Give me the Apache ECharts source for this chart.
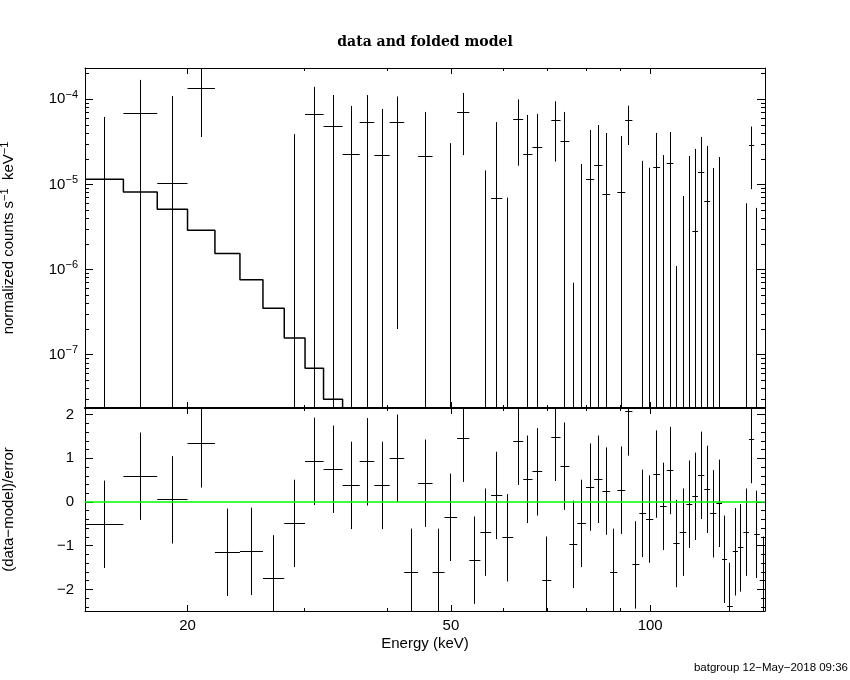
<!DOCTYPE html>
<html><head><meta charset="utf-8">
<script src="https://cdn.jsdelivr.net/npm/echarts@6/dist/echarts.min.js"></script>
<style>html,body{margin:0;padding:0;background:#fff}#c{width:850px;height:680px}</style>
</head><body><div id="c"></div>
<script>
// ---- data ----
const binEdges = [14.0, 16.0, 18.0, 20.0, 22.0, 24.0, 26.0, 28.0, 30.1, 32.1, 34.3, 36.4, 38.3, 40.4, 42.5, 44.6, 46.9, 48.9, 51.1, 53.3, 55.4, 57.5, 59.8, 62.1, 64.3, 66.4, 68.7, 70.9, 73.2, 75.5, 77.6, 80.0, 82.3, 84.7, 87.0, 89.2, 91.7, 94.0, 96.3, 98.6, 101.1, 103.5, 105.9, 108.4, 110.8, 113.4, 115.8, 118.1, 120.7, 123.2, 125.9, 128.4, 130.7, 133.3, 135.7, 138.3, 141.0, 143.6, 146.4, 150.0];
const rate = [-4.1e-5, 6.9e-5, 1.03e-5, 1.35e-4, -1.08e-4, -1.01e-4, -1.49e-4, -3.7e-5, 6.7e-5, 4.82e-5,
  2.26e-5, 5.41e-5, 2.2e-5, 5.41e-5, -8.4e-5, 2.14e-5, -7.9e-5, -1.65e-5, 7.03e-5, -6.25e-5,
  -3.3e-5, 6.9e-6, -3.1e-5, 5.82e-5, 2.26e-5, 2.73e-5, -7.16e-5, 5.66e-5, 3.15e-5, -3.73e-5,
  -1.67e-5, 1.13e-5, 1.69e-5, 7.66e-6, -4.83e-5, 8.07e-6, 5.66e-5, -3.89e-5, -6.6e-6, -1.0e-5,
  1.59e-5, -2.5e-6, 1.77e-5, -2.19e-5, -1.63e-5, -1.1e-6, 2.81e-6, 1.39e-5, 6.32e-6, -5.8e-6,
  -6.5e-7, -2.75e-5, -5.02e-5, -2.28e-5, -2.1e-5, -1.34e-5, 2.83e-5, -1.5e-5, -3.58e-5];
const rateErr = [1.03e-4, 1.0e-4, 9.9e-5, 9.9e-5, 9.5e-5, 9.0e-5, 8.5e-5, 7.6e-5, 7.3e-5, 6.4e-5,
  6.1e-5, 5.8e-5, 5.5e-5, 5.39e-5, 5.2e-5, 4.96e-5, 4.9e-5, 4.7e-5, 4.82e-5, 4.7e-5,
  4.76e-5, 4.7e-5, 3.8e-5, 4.16e-5, 4.29e-5, 4.0e-5, 4.0e-5, 3.81e-5, 3.95e-5, 3.8e-5,
  3.41e-5, 3.23e-5, 3.3e-5, 3.25e-5, 3.0e-5, 2.9e-5, 2.76e-5, 2.7e-5, 2.55e-5, 2.57e-5,
  2.43e-5, 2.46e-5, 2.36e-5, 2.3e-5, 2.36e-5, 2.27e-5, 2.33e-5, 2.22e-5, 2.2e-5, 2.14e-5,
  2.16e-5, 2.1e-5, 2.1e-5, 2.0e-5, 2.0e-5, 1.94e-5, 1.95e-5, 2.03e-5, 2.0e-5];
const model = [1.15e-5, 8.14e-6, 5.09e-6, 2.89e-6, 1.54e-6, 7.6e-7, 3.5e-7, 1.57e-7, 6.9e-8, 2.98e-8, 1.2e-8];
const resid = [-0.51, 0.59, 0.05, 1.33, -1.15, -1.13, -1.76, -0.49, 0.93, 0.75,
  0.38, 0.92, 0.38, 1.00, -1.61, 0.43, -1.61, -0.35, 1.46, -1.33,
  -0.69, 0.15, -0.82, 1.39, 0.52, 0.69, -1.79, 1.48, 0.82, -0.97,
  -0.49, 0.34, 0.52, 0.25, -1.61, 0.27, 2.06, -1.44, -0.26, -0.39,
  0.64, -0.10, 0.72, -0.95, -0.69, -0.05, 0.13, 0.61, 0.29, -0.27,
  -0.03, -1.31, -2.39, -1.14, -1.05, -0.69, 1.43, -0.74, -1.79];

// ---- tick labels ----
const xMajorTicks = [20, 50, 100];
const xMinorTicks = [30, 40, 60, 70, 80, 90];
const yMajorTicks = [1e-7, 1e-6, 1e-5, 1e-4];
const yMinorTicks = [3e-8, 4e-8, 5e-8, 6e-8, 7e-8, 8e-8, 9e-8,
  2e-7, 3e-7, 4e-7, 5e-7, 6e-7, 7e-7, 8e-7, 9e-7,
  2e-6, 3e-6, 4e-6, 5e-6, 6e-6, 7e-6, 8e-6, 9e-6,
  2e-5, 3e-5, 4e-5, 5e-5, 6e-5, 7e-5, 8e-5, 9e-5, 2e-4];
const rMajorTicks = [-2, -1, 0, 1, 2];
const rMinorTicks = [-2.4, -2.2, -1.8, -1.6, -1.4, -1.2, -0.8, -0.6, -0.4, -0.2,
  0.2, 0.4, 0.6, 0.8, 1.2, 1.4, 1.6, 1.8];

// ---- axis ranges ----
const XMIN = 14.0, XMAX = 149.1;
const YMIN = 2.358e-8, YMAX = 2.332e-4;
const RMIN = -2.494, RMAX = 2.151;

const SANS = "'Liberation Sans', Arial, sans-serif";
const lg = Math.log10;
const snap = v => Math.round(v - 0.5) + 0.5;

function tickAxis(gridIndex, pos, min, max, ticks, len, o) {
  o = o || {};
  const a = {
    type: 'value', gridIndex: gridIndex, position: pos, min: min, max: max,
    axisLine: {show: !!o.line, onZero: false, lineStyle: {color: '#000', width: o.lw || 1}},
    axisTick: {show: true, inside: true, length: len, customValues: ticks, lineStyle: {color: '#000', width: 1}},
    axisLabel: {show: false},
    splitLine: {show: false}, minorTick: {show: false}, minorSplitLine: {show: false},
    axisPointer: {show: false}, silent: true
  };
  if (o.label) a.axisLabel = Object.assign({show: true, customValues: ticks, color: '#000',
      fontFamily: SANS, fontSize: 15}, o.label);
  if (o.name) Object.assign(a, o.name);
  return a;
}

const xl = [lg(XMIN), lg(XMAX)];
const yl = [lg(YMIN), lg(YMAX)];
const xMajL = xMajorTicks.map(lg), xMinL = xMinorTicks.map(lg);
const yMajL = yMajorTicks.map(lg), yMinL = yMinorTicks.map(lg);

const xAxes = [
  {type: 'log', gridIndex: 0, min: XMIN, max: XMAX, show: false, position: 'bottom'},
  {type: 'log', gridIndex: 1, min: XMIN, max: XMAX, show: false, position: 'bottom'},
  tickAxis(0, 'bottom', xl[0], xl[1], xMajL, 6, {line: true, lw: 2}),
  tickAxis(0, 'bottom', xl[0], xl[1], xMinL, 3),
  tickAxis(0, 'top', xl[0], xl[1], xMajL, 6, {line: true}),
  tickAxis(0, 'top', xl[0], xl[1], xMinL, 3),
  tickAxis(1, 'bottom', xl[0], xl[1], xMajL, 6, {line: true,
    label: {margin: 7, formatter: v => String(Math.round(Math.pow(10, v)))},
    name: {name: 'Energy (keV)', nameLocation: 'middle', nameGap: 25,
      nameTextStyle: {color: '#000', fontFamily: SANS, fontSize: 15}}}),
  tickAxis(1, 'bottom', xl[0], xl[1], xMinL, 3),
  tickAxis(1, 'top', xl[0], xl[1], xMajL, 6, {line: true}),
  tickAxis(1, 'top', xl[0], xl[1], xMinL, 3)
];

const supRich = {
  b: {fontFamily: SANS, fontSize: 15, color: '#000'},
  s: {fontFamily: SANS, fontSize: 11, color: '#000', padding: [0, 0, 9, 0]}
};

const yAxes = [
  {type: 'log', gridIndex: 0, min: YMIN, max: YMAX, show: false, position: 'left'},
  {type: 'value', gridIndex: 1, min: RMIN, max: RMAX, show: false, position: 'left'},
  tickAxis(0, 'left', yl[0], yl[1], yMajL, 8, {line: true,
    label: {margin: 7, formatter: v => '{b|10}{s|\u2212' + Math.round(-v) + '}', rich: supRich},
    name: {name: '{b|normalized counts s}{s|\u22121}{b|  keV}{s|\u22121}', nameLocation: 'middle',
      nameRotate: 90, nameGap: 66, nameTextStyle: {rich: supRich}}}),
  tickAxis(0, 'left', yl[0], yl[1], yMinL, 4),
  tickAxis(0, 'right', yl[0], yl[1], yMajL, 8, {line: true}),
  tickAxis(0, 'right', yl[0], yl[1], yMinL, 4),
  tickAxis(1, 'left', RMIN, RMAX, rMajorTicks, 8, {line: true,
    label: {margin: 11, formatter: v => (v < 0 ? '\u2212' + (-v) : String(v))},
    name: {name: '(data\u2212model)/error', nameLocation: 'middle', nameRotate: 90, nameGap: 69,
      nameTextStyle: {color: '#000', fontFamily: SANS, fontSize: 15}}}),
  tickAxis(1, 'left', RMIN, RMAX, rMinorTicks, 4),
  tickAxis(1, 'right', RMIN, RMAX, rMajorTicks, 8, {line: true}),
  tickAxis(1, 'right', RMIN, RMAX, rMinorTicks, 4)
];

const seg = (x1, y1, x2, y2) => ({type: 'line', shape: {x1: x1, y1: y1, x2: x2, y2: y2},
  style: {stroke: '#000', lineWidth: 1}});

const rateData = rate.map((v, i) => [binEdges[i], binEdges[i + 1], v, rateErr[i]]);
const residData = resid.map((v, i) => [binEdges[i], binEdges[i + 1], v]);

function renderRate(params, api) {
  const lo = api.value(0), hi = api.value(1), v = api.value(2), e = api.value(3);
  const mid = (lo + hi) / 2, top = v + e, bot = v - e;
  const kids = [];
  if (top > YMIN) {
    const x = snap(api.coord([mid, YMAX])[0]);
    const yT = api.coord([mid, Math.min(top, YMAX)])[1];
    const yB = api.coord([mid, bot > YMIN ? bot : YMIN])[1];
    kids.push(seg(x, yT, x, yB));
  }
  if (v > YMIN && v < YMAX) {
    const y = snap(api.coord([mid, v])[1]);
    const x1 = api.coord([Math.max(lo, XMIN), v])[0];
    const x2 = api.coord([Math.min(hi, XMAX), v])[0];
    kids.push(seg(x1, y, x2, y));
  }
  return {type: 'group', children: kids};
}

function renderResid(params, api) {
  const lo = api.value(0), hi = api.value(1), r = api.value(2);
  const mid = (lo + hi) / 2;
  const kids = [];
  const t = Math.min(r + 1, RMAX), b = Math.max(r - 1, RMIN);
  if (t > b) {
    const x = snap(api.coord([mid, 0])[0]);
    kids.push(seg(x, api.coord([mid, t])[1], x, api.coord([mid, b])[1]));
  }
  if (r > RMIN && r < RMAX) {
    const y = snap(api.coord([mid, r])[1]);
    kids.push(seg(api.coord([Math.max(lo, XMIN), r])[0], y, api.coord([Math.min(hi, XMAX), r])[0], y));
  }
  return {type: 'group', children: kids};
}

const modelLine = model.map((m, i) => [binEdges[i], m]);
modelLine.push([binEdges[model.length], model[model.length - 1]]);

const option = {
  animation: false,
  backgroundColor: '#fff',
  title: {text: 'data and folded model', left: 'center', top: 30,
    textStyle: {fontFamily: "'DejaVu Serif', serif", fontSize: 14, fontWeight: 'bold', color: '#000'}},
  grid: [
    {left: 85, top: 68, width: 680, height: 340, outerBoundsMode: 'none'},
    {left: 85, top: 408, width: 680, height: 203, outerBoundsMode: 'none'}
  ],
  xAxis: xAxes,
  yAxis: yAxes,
  graphic: [{type: 'text', x: 848, y: 668,
    style: {text: 'batgroup 12\u2212May\u22122018 09:36', fill: '#000', font: "11.5px 'Liberation Sans', Arial, sans-serif",
      textAlign: 'right', textVerticalAlign: 'middle'}}],
  series: [
    {type: 'custom', xAxisIndex: 0, yAxisIndex: 0, data: rateData, encode: {x: [0, 1], y: 3},
      renderItem: renderRate, clip: true, silent: true, z: 3},
    {type: 'line', xAxisIndex: 0, yAxisIndex: 0, data: modelLine, step: 'end', symbol: 'none',
      lineStyle: {color: '#000', width: 1.5}, clip: true, silent: true, z: 4},
    {type: 'custom', xAxisIndex: 1, yAxisIndex: 1, data: residData, encode: {x: [0, 1], y: 2},
      renderItem: renderResid, clip: true, silent: true, z: 3},
    {type: 'line', xAxisIndex: 1, yAxisIndex: 1, data: [[XMIN, 0], [XMAX, 0]], symbol: 'none',
      lineStyle: {color: '#00ff00', width: 1.5}, silent: true, z: 5}
  ]
};

const chart = echarts.init(document.getElementById('c'), null, {renderer: 'canvas'});
chart.setOption(option);
</script>
</body></html>
